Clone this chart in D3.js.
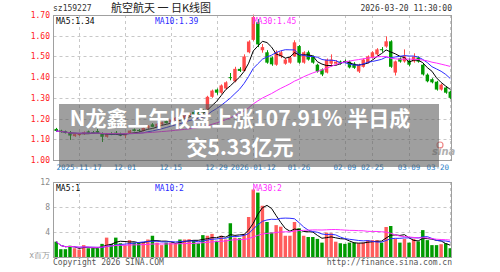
<!DOCTYPE html>
<html>
<head>
<meta charset="utf-8">
<title>sz159227 航空航天 日K线图</title>
<script src="https://d3js.org/d3.v7.min.js"></script>
<style>
body { margin: 0; background: #fff; }
svg text { font-family: "DejaVu Sans Mono", monospace; }
</style>
</head>
<body>
<div id="chart"></div>
<script>
var dates = [
 "2025-11-10","2025-11-11","2025-11-12","2025-11-13","2025-11-14","2025-11-17","2025-11-18","2025-11-19","2025-11-20","2025-11-21",
 "2025-11-24","2025-11-25","2025-11-26","2025-11-27","2025-11-28","2025-12-01","2025-12-02","2025-12-03","2025-12-04","2025-12-05",
 "2025-12-08","2025-12-09","2025-12-10","2025-12-11","2025-12-12","2025-12-15","2025-12-16","2025-12-17","2025-12-18","2025-12-19",
 "2025-12-22","2025-12-23","2025-12-24","2025-12-25","2025-12-26","2025-12-29","2025-12-30","2025-12-31","2026-01-05","2026-01-06",
 "2026-01-07","2026-01-08","2026-01-09","2026-01-12","2026-01-13","2026-01-14","2026-01-15","2026-01-16","2026-01-19","2026-01-20",
 "2026-01-21","2026-01-22","2026-01-23","2026-01-26","2026-01-27","2026-01-28","2026-01-29","2026-01-30","2026-02-02","2026-02-03",
 "2026-02-04","2026-02-05","2026-02-06","2026-02-09","2026-02-10","2026-02-11","2026-02-12","2026-02-13","2026-02-24","2026-02-25",
 "2026-02-26","2026-02-27","2026-03-02","2026-03-03","2026-03-04","2026-03-05","2026-03-06","2026-03-09","2026-03-10","2026-03-11",
 "2026-03-12","2026-03-13","2026-03-16","2026-03-17","2026-03-18","2026-03-19","2026-03-20"];

var open = [1.150,1.142,1.138,1.135,1.115,1.120,1.125,1.138,1.135,1.140,
 1.130,1.112,1.130,1.132,1.128,1.118,1.130,1.148,1.145,1.140,
 1.155,1.172,1.160,1.172,1.188,1.180,1.192,1.210,1.200,1.215,
 1.232,1.228,1.238,1.245,1.305,1.340,1.325,1.345,1.400,1.380,
 1.440,1.430,1.520,1.580,1.665,1.530,1.520,1.495,1.460,1.500,
 1.465,1.470,1.500,1.550,1.470,1.520,1.500,1.460,1.437,1.422,
 1.465,1.465,1.475,1.478,1.475,1.465,1.427,1.450,1.470,1.495,
 1.510,1.535,1.548,1.573,1.422,1.490,1.476,1.480,1.476,1.495,
 1.460,1.412,1.390,1.378,1.340,1.350,1.330];
var high = [1.155,1.146,1.142,1.140,1.128,1.130,1.138,1.142,1.140,1.150,
 1.133,1.130,1.134,1.140,1.132,1.132,1.145,1.152,1.150,1.158,
 1.168,1.178,1.178,1.185,1.192,1.196,1.206,1.214,1.218,1.228,
 1.238,1.232,1.244,1.310,1.340,1.345,1.365,1.380,1.420,1.450,
 1.448,1.510,1.578,1.702,1.680,1.560,1.530,1.500,1.530,1.528,
 1.492,1.500,1.578,1.555,1.525,1.528,1.505,1.465,1.442,1.490,
 1.510,1.482,1.480,1.485,1.480,1.472,1.465,1.490,1.505,1.525,
 1.540,1.545,1.597,1.578,1.480,1.495,1.534,1.490,1.515,1.500,
 1.465,1.418,1.395,1.382,1.368,1.355,1.335];
var low = [1.138,1.132,1.128,1.097,1.112,1.116,1.122,1.128,1.126,1.130,
 1.087,1.108,1.120,1.125,1.115,1.105,1.128,1.138,1.136,1.138,
 1.150,1.158,1.156,1.168,1.176,1.176,1.188,1.198,1.196,1.210,
 1.220,1.216,1.226,1.240,1.300,1.315,1.320,1.340,1.385,1.375,
 1.425,1.428,1.515,1.575,1.545,1.518,1.465,1.455,1.455,1.492,
 1.460,1.465,1.498,1.465,1.465,1.480,1.465,1.422,1.405,1.418,
 1.450,1.458,1.460,1.468,1.442,1.440,1.420,1.446,1.466,1.490,
 1.505,1.522,1.542,1.445,1.408,1.470,1.470,1.452,1.470,1.470,
 1.408,1.375,1.370,1.335,1.335,1.320,1.295];
var close = [1.140,1.135,1.130,1.118,1.125,1.127,1.134,1.130,1.128,1.132,
 1.112,1.126,1.122,1.128,1.118,1.130,1.142,1.140,1.140,1.155,
 1.165,1.160,1.175,1.182,1.178,1.194,1.204,1.200,1.215,1.225,
 1.222,1.220,1.230,1.305,1.335,1.325,1.360,1.375,1.395,1.440,
 1.430,1.500,1.572,1.690,1.558,1.545,1.470,1.462,1.522,1.520,
 1.485,1.495,1.568,1.470,1.520,1.485,1.470,1.427,1.413,1.485,
 1.485,1.475,1.465,1.474,1.447,1.445,1.460,1.485,1.500,1.520,
 1.534,1.530,1.573,1.450,1.476,1.475,1.500,1.460,1.500,1.475,
 1.413,1.380,1.375,1.340,1.364,1.325,1.300];
// volume, millions
var volume = [2.45,1.25,1.25,1.8,1.4,1.2,1.9,1.4,1.4,1.4,
 2.1,3.1,2.1,3.1,2.2,1.9,2.7,2.3,2.3,2.3,
 2.8,3.4,2.3,1.9,2.3,2.3,2.2,2.8,2.8,2.85,
 2.7,2.2,3.5,3.4,3.7,2.6,3.4,2.8,5.4,3.1,
 3.0,3.7,6.4,10.8,10.3,8.2,5.6,3.9,5.1,4.85,
 3.4,3.4,5.6,4.6,3.4,3.2,3.2,2.9,2.3,3.9,
 3.8,2.45,2.2,2.1,2.3,2.3,2.2,2.3,2.7,2.7,
 2.7,2.3,4.8,4.96,2.9,2.3,2.9,2.3,2.9,2.5,
 4.3,2.7,1.9,1.9,2.05,2.2,1.4];

var priceTicks = [1.00,1.10,1.20,1.30,1.40,1.50,1.60,1.70];
var volTicks = [4, 8, 12];
var tickDates = ["2025-11-17","2025-12-01","2025-12-15","2025-12-29","2026-01-12","2026-01-26","2026-02-09","2026-02-25","2026-03-09","2026-03-20"];
var tickLabels = ["2025-11-17","12-01","12-15","12-29","2026-01-12","01-26","02-09","02-25","03-09","03-20"];
var maLabels = ["MA5:1.34","MA10:1.39","MA30:1.45"];
var volMaLabels = ["MA5:1","MA10:2","MA30:2"];
var headline = ["N龙鑫上午收盘上涨107.91% 半日成", "交5.33亿元"];

var W = 500, H = 272;
var L = 53.5, R = 451.5;
var pTop = 15, pBot = 160, vTop = 182, vBot = 257;
var UP = "#ff4a4a", DOWN = "#009a00";
var maColors = ["#000000", "#2b2bff", "#ff2bff"];

var svg = d3.select("#chart").append("svg")
  .attr("width", W).attr("height", H);

var x = d3.scaleBand().domain(dates).range([54.5, 452]).paddingInner(0.25);
var xc = function(d) { return x(d) + x.bandwidth() / 2; };
var y = d3.scaleLinear().domain([1.00, 1.70]).range([pBot, pTop]);
var yv = d3.scaleLinear().domain([0, 12]).range([vBot, vTop]);

function ma(arr, n) {
  return arr.map(function(v, i) {
    var s = arr.slice(Math.max(0, i - n + 1), i + 1);
    return d3.mean(s);
  });
}

var bars = dates.map(function(d, i) {
  return {date: d, o: open[i], h: high[i], l: low[i], c: close[i], v: volume[i], up: close[i] >= open[i]};
});

// grid
var grid = svg.append("g").attr("stroke", "#c8c8c8").attr("stroke-dasharray", "3,3").attr("stroke-width", 1);
grid.selectAll(".hp").data(priceTicks.slice(1, -1)).enter().append("line")
  .attr("x1", L).attr("x2", R)
  .attr("y1", function(d) { return Math.round(y(d)) + 0.5; })
  .attr("y2", function(d) { return Math.round(y(d)) + 0.5; });
grid.selectAll(".hv").data(volTicks.slice(0, -1)).enter().append("line")
  .attr("x1", L).attr("x2", R)
  .attr("y1", function(d) { return Math.round(yv(d)) + 0.5; })
  .attr("y2", function(d) { return Math.round(yv(d)) + 0.5; });
grid.selectAll(".vp").data(tickDates).enter().append("line")
  .attr("x1", function(d) { return Math.round(xc(d)) + 0.5; })
  .attr("x2", function(d) { return Math.round(xc(d)) + 0.5; })
  .attr("y1", pTop).attr("y2", pBot);
grid.selectAll(".vv").data(tickDates).enter().append("line")
  .attr("x1", function(d) { return Math.round(xc(d)) + 0.5; })
  .attr("x2", function(d) { return Math.round(xc(d)) + 0.5; })
  .attr("y1", vTop).attr("y2", vBot);

// candles
var cg = svg.append("g");
cg.selectAll(".wick").data(bars).enter().append("line")
  .attr("x1", function(d) { return Math.round(xc(d.date)) + 0.5; })
  .attr("x2", function(d) { return Math.round(xc(d.date)) + 0.5; })
  .attr("y1", function(d) { return y(d.h); })
  .attr("y2", function(d) { return y(d.l); })
  .attr("stroke", function(d) { return d.up ? UP : DOWN; });
cg.selectAll(".body").data(bars).enter().append("rect")
  .attr("x", function(d) { return x(d.date); })
  .attr("width", x.bandwidth())
  .attr("y", function(d) { return y(Math.max(d.o, d.c)); })
  .attr("height", function(d) { return Math.max(1, Math.abs(y(d.o) - y(d.c))); })
  .attr("fill", function(d) { return d.up ? UP : DOWN; });

// price MA lines
[5, 10, 30].forEach(function(n, k) {
  var m = ma(close, n);
  svg.append("path")
    .datum(dates)
    .attr("fill", "none")
    .attr("stroke", maColors[k])
    .attr("stroke-width", 1)
    .attr("d", d3.line().x(function(d) { return xc(d); }).y(function(d, i) { return y(m[i]); }));
});

// volume bars
svg.append("g").selectAll("rect").data(bars).enter().append("rect")
  .attr("x", function(d) { return x(d.date); })
  .attr("width", x.bandwidth())
  .attr("y", function(d) { return yv(d.v); })
  .attr("height", function(d) { return vBot - yv(d.v); })
  .attr("fill", function(d) { return d.up ? "#ff5c5c" : DOWN; });

[5, 10, 30].forEach(function(n, k) {
  var m = ma(volume, n);
  svg.append("path")
    .datum(dates)
    .attr("fill", "none")
    .attr("stroke", maColors[k])
    .attr("stroke-width", 1)
    .attr("d", d3.line().x(function(d) { return xc(d); }).y(function(d, i) { return yv(m[i]); }));
});

// frames
svg.append("rect").attr("x", L).attr("y", pTop + 0.5).attr("width", R - L).attr("height", pBot - pTop)
  .attr("fill", "none").attr("stroke", "#a0a0a0");
svg.append("rect").attr("x", L).attr("y", vTop + 0.5).attr("width", R - L).attr("height", vBot - vTop)
  .attr("fill", "none").attr("stroke", "#a0a0a0");

// price labels
svg.append("g").selectAll("text").data(priceTicks).enter().append("text")
  .attr("x", 50).attr("y", function(d) { return y(d) + 3; })
  .attr("text-anchor", "end").attr("font-size", 8).attr("fill", "#ff2020")
  .text(function(d) { return d3.format(".2f")(d); });

// volume labels
svg.append("g").selectAll("text").data(volTicks).enter().append("text")
  .attr("x", 50).attr("y", function(d) { return yv(d) + 3; })
  .attr("text-anchor", "end").attr("font-size", 8).attr("fill", "#888")
  .text(function(d) { return d; });
svg.append("text").attr("x", 50).attr("y", vBot + 1).attr("text-anchor", "end")
  .attr("font-size", 8).attr("fill", "#999").text("x百万");

// date labels
svg.append("g").selectAll("text").data(tickDates).enter().append("text")
  .attr("x", function(d, i) { return i === tickDates.length - 1 ? 449 : xc(d); })
  .attr("y", 170)
  .attr("text-anchor", function(d, i) { return i === tickDates.length - 1 ? "end" : "middle"; })
  .attr("font-size", 7.5).attr("fill", "#2a7fc8")
  .text(function(d, i) { return tickLabels[i]; });

// MA labels
var maX = [56, 155, 253];
svg.append("g").selectAll("text").data(maLabels).enter().append("text")
  .attr("x", function(d, i) { return maX[i]; }).attr("y", 24)
  .attr("font-size", 8).attr("fill", function(d, i) { return maColors[i]; })
  .text(function(d) { return d; });
svg.append("g").selectAll("text").data(volMaLabels).enter().append("text")
  .attr("x", function(d, i) { return maX[i]; }).attr("y", 191)
  .attr("font-size", 8).attr("fill", function(d, i) { return maColors[i]; })
  .text(function(d) { return d; });

// titles
svg.append("text").attr("x", 53).attr("y", 11).attr("font-size", 8).attr("fill", "#333").text("sz159227");
svg.append("text").attr("x", 161).attr("y", 12).attr("text-anchor", "middle")
  .style("font-family", "'Noto Sans CJK SC', sans-serif").attr("font-size", 11).attr("fill", "#222")
  .text("航空航天 一 日K线图");
svg.append("text").attr("x", 452).attr("y", 11).attr("text-anchor", "end").attr("font-size", 8).attr("fill", "#333")
  .text("2026-03-20 11:30:00");
svg.append("text").attr("x", 53).attr("y", 265).attr("font-size", 8).attr("fill", "#555")
  .text("Copyright 2026 SINA.COM");
svg.append("text").attr("x", 452).attr("y", 265).attr("text-anchor", "end").attr("font-size", 8).attr("fill", "#555")
  .text("http://finance.sina.com.cn");

// sina watermark
svg.append("text").attr("x", 432).attr("y", 155)
  .style("font-family", "'DejaVu Sans', sans-serif").style("font-style", "italic").style("font-weight", "bold")
  .attr("font-size", 10).attr("fill", "#b0b0b0").text("sina");
svg.append("circle").attr("cx", 440).attr("cy", 145).attr("r", 3)
  .attr("fill", "none").attr("stroke", "#e88").attr("stroke-width", 1.2);

// headline overlay
svg.append("rect").attr("x", 59).attr("y", 104).attr("width", 380).attr("height", 63)
  .attr("fill", "#5a5a5a").attr("opacity", 0.58);
svg.append("g").selectAll("text").data(headline).enter().append("text")
  .attr("x", 240).attr("y", function(d, i) { return 126 + i * 29; })
  .attr("text-anchor", "middle")
  .style("font-family", "'Noto Sans CJK SC', 'Noto Sans', sans-serif").style("font-weight", "bold")
  .attr("font-size", 21).attr("fill", "#fff")
  .text(function(d) { return d; });
</script>
</body>
</html>
